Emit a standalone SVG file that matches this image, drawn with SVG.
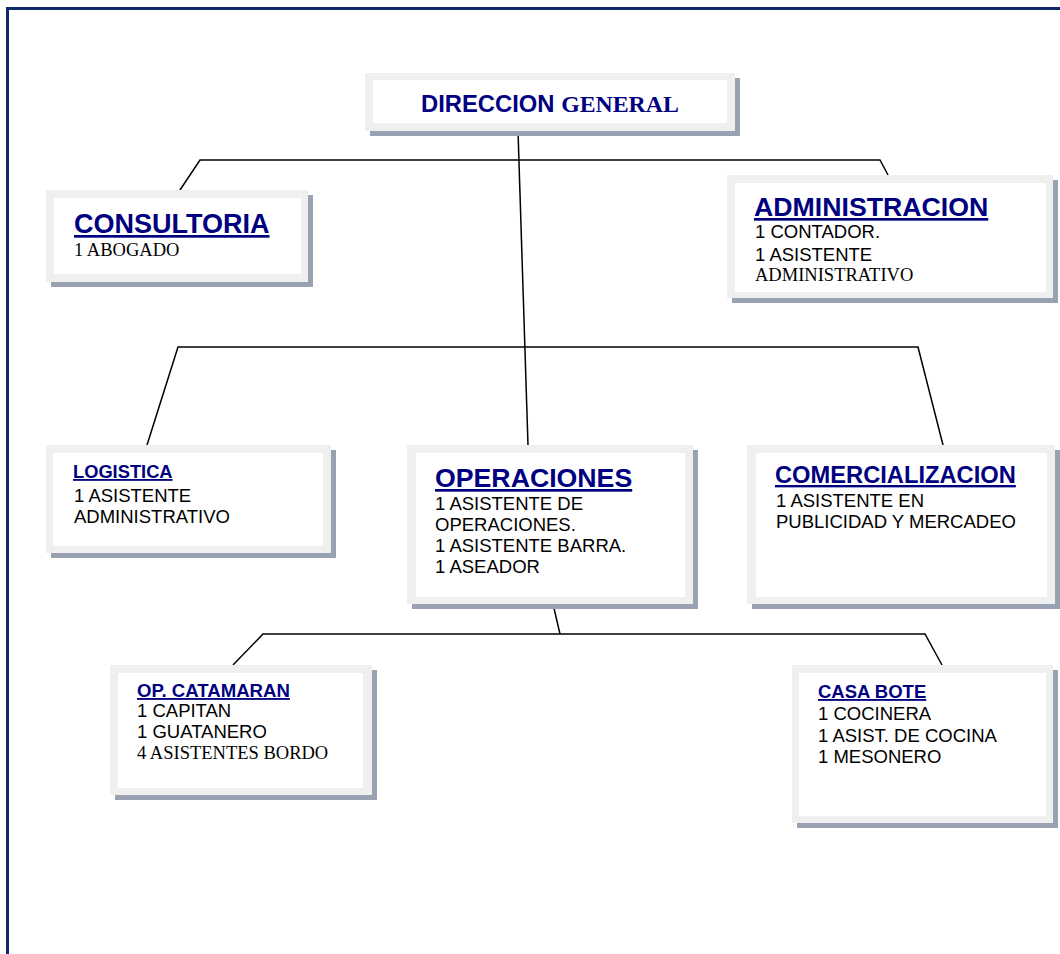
<svg xmlns="http://www.w3.org/2000/svg" width="1060" height="954" viewBox="0 0 1060 954">
<style>
.sh{fill:#98a2b3}
.fr{fill:#efefef}
.in{fill:#ffffff}
.t{font-family:"Liberation Sans",Arial,sans-serif;font-weight:bold;fill:#000080;text-decoration:underline}
.a{font-family:"Liberation Sans",Arial,sans-serif;font-size:18.5px;fill:#000}
.r{font-family:"Liberation Serif","Times New Roman",serif;font-size:18.5px;fill:#000}
.c{fill:none;stroke:#000;stroke-width:1.5}
</style>
<rect width="1060" height="954" fill="#fff"/>
<path d="M7.5,954 V8.5 H1060" fill="none" stroke="#10296b" stroke-width="3"/>
<g id="connectors">
<polyline class="c" points="180,190 200,160 880,160 888,175"/>
<line class="c" x1="518" y1="131" x2="528" y2="445"/>
<polyline class="c" points="147,445 178,347 918,347 943,445"/>
<line class="c" x1="553" y1="604" x2="560" y2="634"/>
<polyline class="c" points="233,665 263,634 925,634 942,665"/>
</g>
<g id="direccion">
<rect class="sh" x="370" y="78" width="370" height="58"/>
<rect class="fr" x="365" y="73" width="370" height="58"/>
<rect class="in" x="373" y="80" width="354" height="43"/>
<text x="421" y="112" font-size="23.8" font-weight="bold" fill="#000080"><tspan font-family="Liberation Sans, Arial, sans-serif">DIRECCION </tspan><tspan font-family="Liberation Serif, Times New Roman, serif">GENERAL</tspan></text>
</g>
<g id="consultoria">
<rect class="sh" x="51" y="195" width="262" height="92"/>
<rect class="fr" x="46" y="190" width="262" height="92"/>
<rect class="in" x="54" y="198" width="247" height="76"/>
<text class="t" x="74" y="233" font-size="27">CONSULTORIA</text>
<text class="r" x="74" y="256">1 ABOGADO</text>
</g>
<g id="administracion">
<rect class="sh" x="732" y="180" width="326" height="123"/>
<rect class="fr" x="727" y="175" width="326" height="123"/>
<rect class="in" x="735" y="183" width="311" height="109"/>
<text class="t" x="754" y="216" font-size="26.7">ADMINISTRACION</text>
<text class="a" x="755" y="238">1 CONTADOR.</text>
<text class="a" x="755" y="261">1 ASISTENTE</text>
<text class="r" x="755" y="281">ADMINISTRATIVO</text>
</g>
<g id="logistica">
<rect class="sh" x="51" y="450" width="285" height="108"/>
<rect class="fr" x="46" y="445" width="285" height="108"/>
<rect class="in" x="53" y="453" width="270" height="93"/>
<text class="t" x="73" y="478" font-size="18.3">LOGISTICA</text>
<text class="a" x="74" y="502">1 ASISTENTE</text>
<text class="a" x="74" y="523">ADMINISTRATIVO</text>
</g>
<g id="operaciones">
<rect class="sh" x="412" y="450" width="286" height="159"/>
<rect class="fr" x="407" y="445" width="286" height="159"/>
<rect class="in" x="416" y="453" width="269" height="144"/>
<text class="t" x="435" y="487" font-size="26.7">OPERACIONES</text>
<text class="a" x="435" y="510">1 ASISTENTE DE</text>
<text class="a" x="435" y="531">OPERACIONES.</text>
<text class="a" x="435" y="552">1 ASISTENTE BARRA.</text>
<text class="a" x="435" y="573">1 ASEADOR</text>
</g>
<g id="comercializacion">
<rect class="sh" x="752" y="450" width="308" height="159"/>
<rect class="fr" x="747" y="445" width="308" height="159"/>
<rect class="in" x="756" y="453" width="291" height="144"/>
<text class="t" x="775" y="483" font-size="23.7">COMERCIALIZACION</text>
<text class="a" x="776" y="507">1 ASISTENTE EN</text>
<text class="a" x="776" y="528">PUBLICIDAD Y MERCADEO</text>
</g>
<g id="catamaran">
<rect class="sh" x="115" y="670" width="262" height="130"/>
<rect class="fr" x="110" y="665" width="262" height="130"/>
<rect class="in" x="118" y="673" width="245" height="115"/>
<text class="t" x="137" y="697" font-size="18.6">OP. CATAMARAN</text>
<text class="a" x="137" y="717">1 CAPITAN</text>
<text class="a" x="137" y="738">1 GUATANERO</text>
<text class="r" x="137" y="759">4 ASISTENTES BORDO</text>
</g>
<g id="casabote">
<rect class="sh" x="797" y="670" width="261" height="158"/>
<rect class="fr" x="792" y="665" width="261" height="158"/>
<rect class="in" x="799" y="673" width="247" height="143"/>
<text class="t" x="818" y="698" font-size="18.5">CASA BOTE</text>
<text class="a" x="818" y="720">1 COCINERA</text>
<text class="a" x="818" y="742">1 ASIST. DE COCINA</text>
<text class="a" x="818" y="763">1 MESONERO</text>
</g>
</svg>
